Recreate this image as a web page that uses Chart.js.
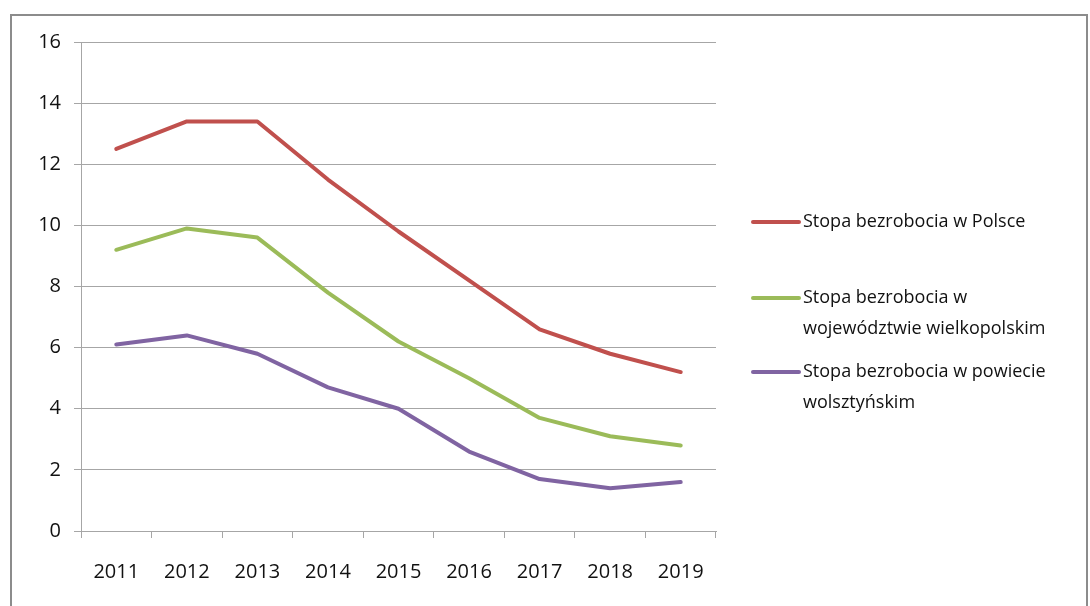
<!DOCTYPE html>
<html>
<head>
<meta charset="utf-8">
<script src="https://cdn.jsdelivr.net/npm/chart.js@4"></script>
<style>
  body { margin: 0; background: #fff; }
  #kontener { width: 1090px; height: 606px; position: relative; }
</style>
</head>
<body>
<div id="kontener"><canvas id="wykres" width="1090" height="606"></canvas></div>
<script>
// Dane
const lata = ['2011', '2012', '2013', '2014', '2015', '2016', '2017', '2018', '2019'];
const polska = [12.5, 13.4, 13.4, 11.5, 9.8, 8.2, 6.6, 5.8, 5.2];
const wielkopolska = [9.2, 9.9, 9.6, 7.8, 6.2, 5.0, 3.7, 3.1, 2.8];
const wolsztyn = [6.1, 6.4, 5.8, 4.7, 4.0, 2.6, 1.7, 1.4, 1.6];

// Etykiety legendy (w liniach, jak w oryginale)
const etykiety = [
    ['Stopa bezrobocia w Polsce'],
    ['Stopa bezrobocia w', 'województwie wielkopolskim'],
    ['Stopa bezrobocia w powiecie', 'wolsztyńskim']
];
const kolory = ['#C0504D', '#9BBB59', '#8064A2'];
const czcionka = '"Open Sans", "Noto Sans", sans-serif';

// Ramka wokół całego obrazka
const ramka = {
    id: 'ramka',
    afterDraw(chart) {
        const ctx = chart.ctx;
        ctx.save();
        ctx.strokeStyle = '#8c8c8c';
        ctx.lineWidth = 2;
        ctx.strokeRect(11, 15, 1076, 640);
        ctx.restore();
    }
};

// Legenda po prawej stronie z zawijanymi wierszami
const legenda = {
    id: 'legenda',
    afterDraw(chart) {
        const ctx = chart.ctx;
        const pozycjeY = [222, 298, 372]; // środek pierwszego wiersza każdej pozycji
        ctx.save();
        ctx.font = '18px ' + czcionka;
        ctx.textBaseline = 'middle';
        ctx.fillStyle = '#111';
        chart.data.datasets.forEach((ds, i) => {
            const y = pozycjeY[i];
            ctx.strokeStyle = ds.borderColor;
            ctx.lineWidth = 4;
            ctx.lineCap = 'round';
            ctx.beginPath();
            ctx.moveTo(753, y);
            ctx.lineTo(799, y);
            ctx.stroke();
            etykiety[i].forEach((linia, j) => {
                ctx.fillText(linia, 803, y + j * 31);
            });
        });
        ctx.restore();
    }
};

const ctx = document.getElementById('wykres').getContext('2d');
const wykres = new Chart(ctx, {
    type: 'line',
    data: {
        labels: lata,
        datasets: [
            { label: etykiety[0].join(' '), data: polska, borderColor: kolory[0] },
            { label: etykiety[1].join(' '), data: wielkopolska, borderColor: kolory[1] },
            { label: etykiety[2].join(' '), data: wolsztyn, borderColor: kolory[2] }
        ].map(d => Object.assign(d, {
            borderWidth: 4,
            pointRadius: 0,
            tension: 0,
            fill: false,
            borderCapStyle: 'round',
            borderJoinStyle: 'round'
        }))
    },
    options: {
        responsive: false,
        animation: false,
        events: [],
        layout: { padding: { left: 0, top: 42, right: 374, bottom: 0 } },
        plugins: {
            legend: { display: false },
            tooltip: { enabled: false }
        },
        scales: {
            x: {
                offset: true,
                grid: {
                    offset: true,
                    drawOnChartArea: false,
                    drawTicks: true,
                    tickLength: 7,
                    color: '#a6a6a6'
                },
                border: { display: true, color: '#a6a6a6', width: 1 },
                ticks: {
                    color: '#111',
                    font: { family: czcionka, size: 20 },
                    padding: 22,
                    maxRotation: 0
                },
                afterFit(scale) { scale.height = 75; }
            },
            y: {
                min: 0,
                max: 16,
                ticks: {
                    stepSize: 2,
                    color: '#111',
                    font: { family: czcionka, size: 20 },
                    padding: 13
                },
                grid: { color: '#a6a6a6', tickLength: 7 },
                border: { display: true, color: '#a6a6a6', width: 1 },
                afterFit(scale) { scale.width = 81; }
            }
        }
    },
    plugins: [ramka, legenda]
});
</script>
</body>
</html>
